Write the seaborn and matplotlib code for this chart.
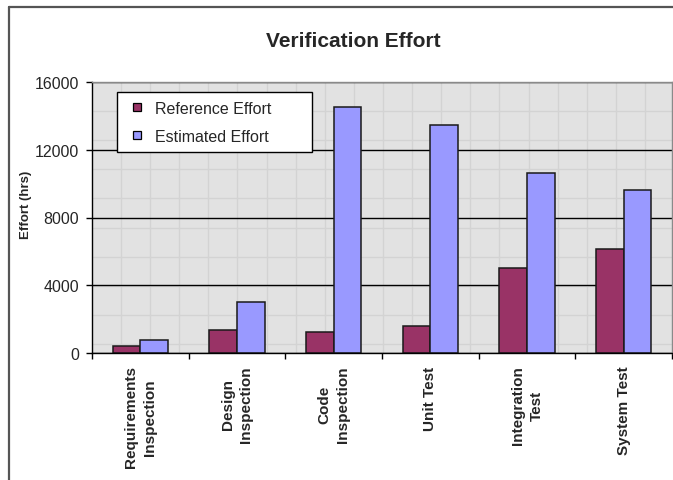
import matplotlib
matplotlib.use("Agg")
import matplotlib.pyplot as plt
import seaborn as sns
import pandas as pd
import numpy as np
from matplotlib.lines import Line2D
from matplotlib.collections import LineCollection

# ---- data -------------------------------------------------------------
phases = [
    "Requirements\nInspection",
    "Design\nInspection",
    "Code\nInspection",
    "Unit Test",
    "Integration\nTest",
    "System Test",
]
reference_effort = [400, 1380, 1220, 1580, 5000, 6150]
estimated_effort = [750, 3000, 14500, 13450, 10630, 9620]
series_names = ["Reference Effort", "Estimated Effort"]
series_colors = ["#993366", "#9999FF"]
y_ticks = [0, 4000, 8000, 12000, 16000]

df = pd.DataFrame({
    "Phase": phases * 2,
    "Effort": reference_effort + estimated_effort,
    "Series": [series_names[0]] * len(phases) + [series_names[1]] * len(phases),
})

sns.set_theme(style="white")
plt.rcParams["font.family"] = ["Liberation Sans", "DejaVu Sans"]

W, H = 673, 481
fig = plt.figure(figsize=(W / 100, H / 100), dpi=100)
fig.patch.set_facecolor("white")

# plot area in pixel terms
left, right, top, bottom = 92, 672, 83, 354
pw, ph = right - left, bottom - top
ax = fig.add_axes([left / W, 1 - bottom / H, pw / W, ph / H])
ax.set_facecolor("#e2e2e2")

# faint tiled pattern of the plot-area fill
step = 29.1
vx = np.arange(step, pw, step) / pw
hy = 1 - np.arange(step, ph, step) / ph
segs = [[(x, 0), (x, 1)] for x in vx] + [[(0, y), (1, y)] for y in hy]
ax.add_collection(LineCollection(segs, colors="#d3d3d3", linewidths=1.0,
                                 transform=ax.transAxes, zorder=0.2))

sns.barplot(data=df, x="Phase", y="Effort", hue="Series", order=phases,
            hue_order=series_names, palette=series_colors, saturation=1,
            width=0.571, gap=0, edgecolor="#1a1a1a", linewidth=1.1,
            errorbar=None, legend=False, ax=ax, zorder=2)

# axes, grid and ticks
ax.set_xlim(-0.5, len(phases) - 0.5)
ax.set_ylim(y_ticks[0], y_ticks[-1])
ax.set_axisbelow(True)
ax.yaxis.grid(True, color="black", linewidth=1.0)
ax.xaxis.grid(False)

for side in ("left", "bottom"):
    ax.spines[side].set_color("black")
    ax.spines[side].set_linewidth(1.0)
for side in ("top", "right"):
    ax.spines[side].set_color("#8a8a8a")
    ax.spines[side].set_linewidth(1.0)

ax.set_yticks(y_ticks)
ax.set_yticklabels([str(v) for v in y_ticks], fontsize=11.5)
ax.tick_params(axis="y", which="major", direction="out", length=4, width=1,
               color="black", pad=5.5, left=True)

ax.set_xticks(range(len(phases)))
ax.set_xticklabels(phases, rotation=90, fontsize=11, fontweight="bold",
                   ha="center", va="top", multialignment="center",
                   linespacing=1.45)
ax.set_xticks(np.arange(-0.5, len(phases), 1.0), minor=True)
ax.tick_params(axis="x", which="major", length=0, pad=9)
ax.tick_params(axis="x", which="minor", direction="out", length=4, width=1,
               color="black", bottom=True)

ax.set_xlabel("")
ax.set_ylabel("Effort (hrs)", fontsize=9.5, fontweight="bold", va="center")
ax.yaxis.set_label_coords((26 - left) / pw, (bottom - 205) / ph)

ax.set_title("Verification Effort", fontsize=15, fontweight="bold",
             x=(353 - left) / pw, y=(bottom - 47) / ph, pad=0, va="baseline")

# legend with small square keys
handles = [Line2D([], [], linestyle="none", marker="s", markersize=6,
                  markerfacecolor=c, markeredgecolor="black",
                  markeredgewidth=0.9) for c in series_colors]
leg = ax.legend(handles, series_names, loc="upper left",
                bbox_to_anchor=((117 - left) / pw, (bottom - 151) / ph, 195 / pw, 58 / ph),
                mode="expand", fontsize=11.5, frameon=True, fancybox=False,
                framealpha=1, borderaxespad=0, handlelength=1.44,
                handletextpad=0.4, borderpad=0.55, labelspacing=0.8)
leg.get_frame().set_edgecolor("black")
leg.get_frame().set_linewidth(1.0)

# chart-area frame
frame_kw = dict(color="#555555", linewidth=1.6, transform=fig.transFigure)
fig.add_artist(Line2D([9 / W, 9 / W], [0, 1 - 8 / H], **frame_kw))
fig.add_artist(Line2D([9 / W, 1], [1 - 8 / H, 1 - 8 / H], **frame_kw))

fig.savefig("out.png", dpi=100)
